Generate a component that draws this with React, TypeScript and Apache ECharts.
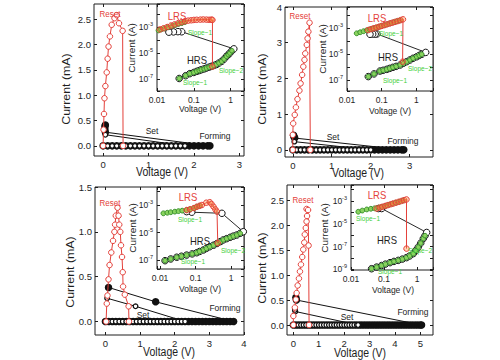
import React, { useEffect, useRef } from 'react';
import * as echarts from 'echarts';

// ---------------- data (Voltage V, Current mA for main; Voltage V, Current A for insets) -------------
const p1Reset = [[0,0],[0.01,0.32],[0.02,0.63],[0.03,0.94],[0.05,1.18],[0.08,1.45],[0.1,1.72],[0.12,1.96],[0.15,2.16],[0.19,2.39],[0.25,2.52],[0.3,2.58],[0.35,2.42],[0.43,2.27],[0.44,0]];
const p1FormSweep = [0,0.1,0.2,0.3,0.4,0.5,0.6,0.7,0.8,0.9,1,1.1,1.2,1.3,1.4,1.5,1.6,1.7,1.8,1.9,2,2.1,2.2,2.3,2.35];
const p1FormTail = [[0.05,0.27],[0.04,0.33],[0.04,0.38],[0.05,0.41]];
const p1SetSweep = [0,0.1,0.2,0.3,0.4,0.5,0.6,0.7,0.8,0.9,1,1.1,1.2,1.3,1.4,1.5,1.6,1.7,1.8];
const p1SetTail = [[0.05,0.22]];

const p2Reset = [[0,0],[0,0.42],[0.01,0.74],[0.05,0.98],[0.08,1.19],[0.12,1.42],[0.17,1.66],[0.2,1.86],[0.24,2.1],[0.27,2.33],[0.3,2.52],[0.32,2.7],[0.36,2.94],[0.38,3.12],[0.4,3.31],[0.43,3.56],[0.45,0]];
const p2FormSweep = [0,0.1,0.2,0.3,0.4,0.5,0.6,0.7,0.8,0.9,1,1.1,1.2,1.3,1.4,1.5,1.6,1.7,1.8,1.9,2,2.1,2.2,2.3,2.4,2.5,2.6,2.7,2.8,2.85];
const p2FormTail = [[0.05,0.33],[0.03,0.37],[0.02,0.41]];
const p2SetSweep = [0,0.1,0.2,0.3,0.4,0.5,0.6,0.7,0.8,0.9,1,1.1,1.2,1.3,1.4,1.5,1.6,1.7,1.8,1.9,2];
const p2SetTail = [[0.04,0.23]];

const p3Reset = [[0.02,0],[0.04,0.2],[0.06,0.29],[0.09,0.47],[0.12,0.63],[0.17,0.77],[0.22,0.9],[0.26,1.0],[0.28,1.08],[0.3,1.18],[0.35,1.27],[0.38,1.18],[0.4,1.08],[0.43,1.0],[0.45,0.85],[0.48,0.72],[0.5,0.55],[0.51,0.39],[0.56,0.3],[0.67,0.17],[0.68,0]];
const p3FormSweep = [0,0.1,0.2,0.3,0.4,0.5,0.6,0.7,0.8,0.9,1,1.1,1.2,1.3,1.4,1.5,1.6,1.7,1.8,1.9,2,2.1,2.2,2.3,2.4,2.5,2.6,2.7,2.8,2.9,3,3.1,3.2,3.3,3.4,3.5,3.6,3.7];
const p3FormTail = [[1.45,0.22],[0.09,0.38]];
const p3SetSweep = [0,0.1,0.2,0.3,0.4,0.5,0.6,0.7,0.8,0.9,1,1.1,1.2,1.3,1.4,1.5,1.6,1.7,1.8,1.9,2,2.1,2.2,2.3];
const p3SetTail = [[0.87,0.17],[0.05,0.26]];

const p4Reset = [[0,0],[0,0.18],[0.06,0.35],[0.1,0.51],[0.13,0.64],[0.17,0.79],[0.22,0.93],[0.26,1.07],[0.3,1.21],[0.35,1.36],[0.39,1.51],[0.43,1.65],[0.45,1.81],[0.49,1.94],[0.52,2.07],[0.54,2.18],[0.52,2.32],[0.58,2.3],[0.6,1.59],[0.62,0]];
const p4FormSweep = [0,0.1,0.2,0.3,0.4,0.5,0.6,0.7,0.8,0.9,1,1.1,1.2,1.3,1.4,1.5,1.6,1.7,1.8,1.9,2,2.1,2.2,2.3,2.4,2.5,2.6,2.7,2.8,2.9,3,3.1,3.2,3.3,3.4,3.5,3.6,3.7,3.8,3.9,4,4.1,4.2,4.3,4.4,4.5,4.6,4.7,4.8,4.9,5,5.05];
const p4FormTail = [[0.12,0.5],[0.1,0.55]];
const p4SetSweep = [0,0.1,0.2,0.3,0.4,0.5,0.6,0.7,0.8,0.9,1,1.1,1.2,1.3,1.4,1.5,1.6,1.7,1.8,1.9,2,2.1,2.2,2.3,2.4,2.5,2.55];
const p4SetTail = [[0.08,0.27],[0.06,0.3]];

// insets (log-log)
const p1InRed = [[0.012,6.5e-4],[0.015,8e-4],[0.019,1e-3],[0.024,1.3e-3],[0.03,1.6e-3],[0.038,2e-3],[0.047,2.4e-3],[0.058,2.8e-3],[0.07,3.1e-3],[0.085,3.3e-3],[0.1,3.5e-3],[0.12,3.6e-3],[0.15,3.7e-3],[0.18,3.8e-3],[0.22,3.7e-3],[0.26,3.6e-3],[0.3,3.7e-3],[0.32,3.5e-3],[0.32,9e-7]];
const p1InGreenL = [[0.011,5.5e-4],[0.013,6.5e-4],[0.016,7.8e-4],[0.02,9.5e-4],[0.025,1.15e-3],[0.031,1.4e-3],[0.038,1.7e-3],[0.047,2e-3],[0.057,2.4e-3]];
const p1InHRS = [[0.04,1.1e-7],[0.06,1.8e-7],[0.078,2.6e-7],[0.1,3.2e-7],[0.12,3.9e-7],[0.14,4.5e-7],[0.16,5.2e-7],[0.19,6e-7],[0.22,7e-7],[0.26,8.2e-7],[0.3,9.5e-7],[0.35,1.1e-6],[0.41,1.3e-6],[0.48,1.7e-6],[0.57,2.3e-6],[0.66,3.4e-6],[0.77,5.6e-6],[0.86,7.5e-6],[0.95,1e-5],[1.08,1.5e-5],[1.22,2.1e-5]];
const p1InLRSBlack = [[0.047,4.3e-4],[0.037,4.4e-4],[0.028,4.2e-4],[0.021,4e-4]];

const p2InRed = [[0.041,6.8e-4],[0.05,8e-4],[0.06,9.3e-4],[0.072,1.07e-3],[0.086,1.24e-3],[0.1,1.4e-3],[0.12,1.62e-3],[0.14,1.84e-3],[0.17,2.15e-3],[0.2,2.45e-3],[0.24,2.85e-3],[0.29,3.3e-3],[0.35,3.9e-3],[0.41,4.5e-3],[0.4,2.5e-6]];
const p2InGreenL = [[0.019,3.8e-4],[0.024,4.6e-4],[0.03,5.5e-4],[0.037,6.4e-4],[0.045,7.5e-4],[0.055,8.8e-4],[0.067,1.03e-3],[0.082,1.2e-3],[0.1,1.4e-3],[0.12,1.62e-3],[0.15,1.95e-3],[0.18,2.3e-3],[0.22,2.7e-3],[0.27,3.2e-3],[0.33,3.7e-3]];
const p2InHRS = [[0.041,1.8e-7],[0.06,2.9e-7],[0.089,4.8e-7],[0.11,5.5e-7],[0.14,6.5e-7],[0.17,7.7e-7],[0.21,9.3e-7],[0.26,1.1e-6],[0.34,1.4e-6],[0.42,1.9e-6],[0.52,2.5e-6],[0.65,3.4e-6],[0.8,4.6e-6],[1.02,6e-6],[1.2,7.6e-6],[1.42,9.3e-6],[1.85,1.3e-5]];
const p2InLRSBlack = [[0.073,3.4e-4],[0.065,3.3e-4],[0.055,3.3e-4],[0.046,3.2e-4]];

const p3InRed = [[0.056,4.3e-4],[0.07,4.9e-4],[0.09,6e-4],[0.108,7.5e-4],[0.13,8.8e-4],[0.15,1e-3],[0.2,1.47e-3],[0.25,1.6e-3],[0.28,1.2e-3],[0.32,7.5e-4],[0.36,4.8e-4],[0.4,3.3e-4],[0.42,1.7e-6]];
const p3InGreenL = [[0.0124,2.5e-4],[0.016,2.75e-4],[0.02,3e-4],[0.026,3.3e-4],[0.033,3.6e-4],[0.042,3.9e-4],[0.056,4.3e-4],[0.07,4.9e-4],[0.09,6e-4],[0.108,7.5e-4],[0.13,8.8e-4]];
const p3InHRS = [[0.0138,9e-8],[0.02,1.2e-7],[0.0295,1.6e-7],[0.04,1.9e-7],[0.056,2.3e-7],[0.08,2.8e-7],[0.108,3.4e-7],[0.13,4.2e-7],[0.166,5.4e-7],[0.2,7e-7],[0.25,9.3e-7],[0.32,1.2e-6],[0.4,1.6e-6],[0.5,2.2e-6],[0.6,2.9e-6],[0.75,3.6e-6],[0.94,4.5e-6],[1.15,5.5e-6],[1.44,6.6e-6],[1.8,8.8e-6],[2.2,1.15e-5]];
const p3InLRSBlack = [[0.55,2.5e-4],[0.078,3e-4],[0.056,3.3e-4]];

const p4InRed = [[0.06,2.1e-4],[0.075,2.55e-4],[0.09,3e-4],[0.11,3.57e-4],[0.13,4.15e-4],[0.16,5e-4],[0.19,5.8e-4],[0.23,6.85e-4],[0.28,8.15e-4],[0.34,9.7e-4],[0.41,1.14e-3],[0.48,1.31e-3],[0.48,6.6e-8]];
const p4InGreenL = [[0.0166,1.1e-4],[0.022,1.4e-4],[0.03,1.75e-4],[0.04,2e-4],[0.052,2.2e-4],[0.067,2.5e-4],[0.085,2.9e-4],[0.11,3.6e-4],[0.14,4.5e-4],[0.18,5.6e-4],[0.23,6.9e-4],[0.29,8.3e-4],[0.37,1.04e-3]];
const p4InHRS = [[0.042,1.15e-9],[0.06,1.6e-9],[0.085,2.2e-9],[0.11,2.9e-9],[0.152,3.9e-9],[0.2,5e-9],[0.27,6.2e-9],[0.36,8e-9],[0.48,1.07e-8],[0.6,1.5e-8],[0.77,2.4e-8],[0.92,4.5e-8],[1.09,9e-8],[1.3,2e-7],[1.55,5e-7],[1.75,9e-7],[1.96,1.7e-6]];
const p4InLRSBlack = [[0.085,2.1e-4],[0.067,2.1e-4]];

// tick values
const p1XTicks = [0,1,2,3];
const p1YTicks = [0,0.5,1,1.5,2,2.5];
const p2XTicks = [0,1,2,3];
const p2YTicks = [0,1,2,3,4];
const p3XTicks = [0,1,2,3,4];
const p3YTicks = [0,0.5,1,1.5];
const p4XTicks = [0,1,2,3,4,5];
const p4YTicks = [0,0.5,1,1.5,2,2.5];

// ---------------- layout & style ----------------
const FONT = '"Liberation Sans", Arial, Helvetica, sans-serif';
const INK = '#1e1e1e';
const RED = '#e4403a';
const GREEN_TXT = '#3fcf3a';
const GREEN_FILL = '#8ad35f';
const GREEN_EDGE = '#2f8a25';

const panels = [
  {
    main: { left: 94, top: 4, width: 150, height: 152 }, xr: [-0.2, 3.1], yr: [-0.2, 2.8], xt: p1XTicks, yt: p1YTicks, yd: 1,
    inset: { left: 157, top: 4, width: 87, height: 87 }, ixr: [0.01, 2.3], iyr: [-7.92, -1.23],
    reset: p1Reset, formSweep: p1FormSweep, formTail: p1FormTail, setSweep: p1SetSweep, setTail: p1SetTail,
    inRed: p1InRed, inGreenL: p1InGreenL, inHRS: p1InHRS, inLRSBlack: p1InLRSBlack,
  },
  {
    main: { left: 285, top: 7, width: 148, height: 150 }, xr: [-0.2, 3.6], yr: [-0.2, 4], xt: p2XTicks, yt: p2YTicks, yd: 0,
    inset: { left: 347, top: 7, width: 86, height: 84 }, ixr: [0.01, 3], iyr: [-7.85, -1.4],
    reset: p2Reset, formSweep: p2FormSweep, formTail: p2FormTail, setSweep: p2SetSweep, setTail: p2SetTail,
    inRed: p2InRed, inGreenL: p2InGreenL, inHRS: p2InHRS, inLRSBlack: p2InLRSBlack,
  },
  {
    main: { left: 95, top: 187, width: 149, height: 148 }, xr: [-0.3, 4], yr: [-0.15, 1.5], xt: p3XTicks, yt: p3YTicks, yd: 1,
    inset: { left: 157, top: 187, width: 87, height: 82 }, ixr: [0.0082, 2.3], iyr: [-7.65, -1.69],
    reset: p3Reset, formSweep: p3FormSweep, formTail: p3FormTail, setSweep: p3SetSweep, setTail: p3SetTail,
    inRed: p3InRed, inGreenL: p3InGreenL, inHRS: p3InHRS, inLRSBlack: p3InLRSBlack,
  },
  {
    main: { left: 287, top: 185, width: 146, height: 150 }, xr: [-0.25, 5.5], yr: [-0.2, 2.8], xt: p4XTicks, yt: p4YTicks, yd: 1,
    inset: { left: 351, top: 185, width: 82, height: 85 }, ixr: [0.01, 3.05], iyr: [-9.05, -1.62],
    reset: p4Reset, formSweep: p4FormSweep, formTail: p4FormTail, setSweep: p4SetSweep, setTail: p4SetTail,
    inRed: p4InRed, inGreenL: p4InGreenL, inHRS: p4InHRS, inLRSBlack: p4InLRSBlack,
  },
];

const labels = [
  // [x, y, text, kind]
  [66, 89, 'Current (mA)', 'ytitle'], [162, 172, 'Voltage (V)', 'xtitle'],
  [110, 14, 'Reset', 'red'], [152, 131, 'Set', 'note'], [215, 136, 'Forming', 'note'],
  [132, 48, 'Current (A)', 'iytitle'], [200, 109, 'Voltage (V)', 'ixtitle'],
  [177, 16, 'LRS', 'lrs'], [197, 60, 'HRS', 'hrs'],
  [200, 32, 'Slope~1', 'slope'], [231, 70, 'Slope~2', 'slope'], [195, 82, 'Slope~1', 'slope'],

  [262, 89, 'Current (mA)', 'ytitle'], [358, 173, 'Voltage (V)', 'xtitle'],
  [300, 16, 'Reset', 'red'], [333, 137, 'Set', 'note'], [403, 141, 'Forming', 'note'],
  [323, 49, 'Current (A)', 'iytitle'], [390, 111, 'Voltage (V)', 'ixtitle'],
  [377, 18, 'LRS', 'lrs'], [388, 57, 'HRS', 'hrs'],
  [391, 33, 'Slope~1', 'slope'], [420, 68, 'Slope~2', 'slope'], [395, 80, 'Slope~1', 'slope'],

  [70, 272, 'Current (mA)', 'ytitle'], [169, 352, 'Voltage (V)', 'xtitle'],
  [110, 203, 'Reset', 'red'], [143, 315, 'Set', 'note'], [225, 308, 'Forming', 'note'],
  [133, 228, 'Current (A)', 'iytitle'], [200, 289, 'Voltage (V)', 'ixtitle'],
  [188, 197, 'LRS', 'lrs'], [200, 241, 'HRS', 'hrs'],
  [190, 219, 'Slope~1', 'slope'], [233, 250, 'Slope~2', 'slope'], [193, 261, 'Slope~1', 'slope'],

  [262, 268, 'Current (mA)', 'ytitle'], [360, 353, 'Voltage (V)', 'xtitle'],
  [303, 200, 'Reset', 'red'], [347, 317, 'Set', 'note'], [413, 312, 'Forming', 'note'],
  [325, 228, 'Current (A)', 'iytitle'], [393, 290, 'Voltage (V)', 'ixtitle'],
  [377, 195, 'LRS', 'lrs'], [387, 240, 'HRS', 'hrs'],
  [368, 218, 'Slope~1', 'slope'], [420, 250, 'Slope~2', 'slope'], [390, 271, 'Slope~1', 'slope'],
];

const textKinds: any = {
  ytitle: { size: 10.5, color: INK, rot: true },
  xtitle: { size: 10.5, color: INK },
  iytitle: { size: 8.5, color: INK, rot: true },
  ixtitle: { size: 8.5, color: INK },
  red: { size: 8, color: RED },
  note: { size: 8.5, color: INK },
  lrs: { size: 9.5, color: RED },
  hrs: { size: 9.5, color: INK },
  slope: { size: 6.5, color: GREEN_TXT },
};

function makeText(l: any) {
  const [x, y, text, kind] = l;
  const k = textKinds[kind];
  const el: any = {
    type: 'text', x, y, z: 20, silent: true,
    style: {
      text, fontSize: k.size, fontFamily: FONT, fill: k.color,
      align: 'center', verticalAlign: 'middle', textAlign: 'center', textVerticalAlign: 'middle',
    },
  };
  if (k.rot) { el.rotation = Math.PI / 2; el.scaleX = 1.18; }
  else { el.scaleY = 1.15; }
  return el;
}

function fmtLogX(v: number) {
  const l = Math.log10(v);
  const e = Math.round(l);
  if (Math.abs(l - e) > 1e-6) return '';
  if (e === -2) return '0.01';
  if (e === -1) return '0.1';
  if (e === 0) return '1';
  return '';
}
function fmtLogY(v: number) {
  const l = Math.log10(v);
  const e = Math.round(l);
  if (Math.abs(l - e) > 1e-6) return '';
  if (e % 2 === 0) return '';
  return '{b|10}{s|' + e + '}';
}

function buildOption() {
  const grids: any[] = [];
  const xAxes: any[] = [];
  const yAxes: any[] = [];
  const mirrorsX: any[] = [];
  const mirrorsY: any[] = [];
  const series: any[] = [];

  panels.forEach((p) => {
    grids.push({ ...p.main, show: true, backgroundColor: '#fff', borderColor: INK, borderWidth: 1, z: 0 });
  });
  panels.forEach((p) => {
    grids.push({ ...p.inset, show: true, backgroundColor: '#fff', borderColor: INK, borderWidth: 1, z: 3 });
  });

  const tickStyle = { lineStyle: { color: INK, width: 1 } };
  panels.forEach((p, i) => {
    const base = () => ({ type: 'value', gridIndex: i, splitLine: { show: false }, axisLine: { show: false, onZero: false } });
    const yfmt = (v: number) => (p.yd ? v.toFixed(1) : String(v));
    xAxes.push({ ...base(), min: p.xr[0], max: p.xr[1], position: 'bottom',
      axisTick: { show: true, inside: true, length: 3, customValues: p.xt, ...tickStyle },
      axisLabel: { show: true, customValues: p.xt, margin: 3, fontSize: 9.5, fontFamily: FONT, color: INK, formatter: (v: number) => String(v) } });
    yAxes.push({ ...base(), min: p.yr[0], max: p.yr[1], position: 'left',
      axisTick: { show: true, inside: true, length: 3, customValues: p.yt, ...tickStyle },
      axisLabel: { show: true, customValues: p.yt, margin: 3, fontSize: 9.5, fontFamily: FONT, color: INK, formatter: yfmt } });
    mirrorsX.push({ ...base(), min: p.xr[0], max: p.xr[1], position: 'top',
      axisTick: { show: true, inside: true, length: 3, customValues: p.xt, ...tickStyle }, axisLabel: { show: false } });
    mirrorsY.push({ ...base(), min: p.yr[0], max: p.yr[1], position: 'right',
      axisTick: { show: true, inside: true, length: 3, customValues: p.yt, ...tickStyle }, axisLabel: { show: false } });
  });
  panels.forEach((p, i) => {
    const gi = 4 + i;
    const lb = { type: 'log', logBase: 10, gridIndex: gi, z: 5, splitLine: { show: false }, axisLine: { show: false, onZero: false } };
    const ymin = Math.pow(10, p.iyr[0]);
    const ymax = Math.pow(10, p.iyr[1]);
    xAxes.push({ ...lb, min: p.ixr[0], max: p.ixr[1], position: 'bottom',
      axisTick: { show: true, inside: true, length: 3, ...tickStyle },
      axisLabel: { show: true, margin: 4, fontSize: 8.5, fontFamily: FONT, color: INK, formatter: fmtLogX } });
    yAxes.push({ ...lb, min: ymin, max: ymax, position: 'left',
      axisTick: { show: true, inside: true, length: 3, ...tickStyle },
      axisLabel: { show: true, margin: 4, fontFamily: FONT, color: INK, formatter: fmtLogY,
        rich: { b: { fontSize: 8.5, fontFamily: FONT, color: INK }, s: { fontSize: 5.5, fontFamily: FONT, color: INK, padding: [0, 0, 6, 0] } } } });
    mirrorsX.push({ ...lb, min: p.ixr[0], max: p.ixr[1], position: 'top',
      axisTick: { show: true, inside: true, length: 3, ...tickStyle }, axisLabel: { show: false } });
    mirrorsY.push({ ...lb, min: ymin, max: ymax, position: 'right',
      axisTick: { show: true, inside: true, length: 3, ...tickStyle }, axisLabel: { show: false } });
  });

  panels.forEach((p, i) => {
    const common = { type: 'line', xAxisIndex: i, yAxisIndex: i, silent: true, animation: false, showSymbol: true, emphasis: { disabled: true } };
    series.push({ ...common, name: 'Forming' + i, z: 2,
      data: p.formSweep.map((v) => [v, 0]).concat(p.formTail),
      symbol: 'circle', symbolSize: 7.5, itemStyle: { color: '#111' }, lineStyle: { color: '#111', width: 1 } });
    series.push({ ...common, name: 'Set' + i, z: 3,
      data: p.setSweep.map((v) => [v, 0]).concat(p.setTail),
      symbol: 'circle', symbolSize: 4.6, itemStyle: { color: '#fff', borderColor: '#111', borderWidth: 1.3 }, lineStyle: { color: '#111', width: 1 } });
    series.push({ ...common, name: 'Reset' + i, z: 4, data: p.reset,
      symbol: 'circle', symbolSize: 5.5, itemStyle: { color: '#fff', borderColor: RED, borderWidth: 1 }, lineStyle: { color: RED, width: 1 } });
  });
  panels.forEach((p, i) => {
    const gi = 4 + i;
    const common = { type: 'line', xAxisIndex: gi, yAxisIndex: gi, silent: true, animation: false, showSymbol: true, emphasis: { disabled: true } };
    series.push({ ...common, name: 'InBlack' + i, z: 6, data: p.inHRS.concat(p.inLRSBlack),
      symbol: 'circle', symbolSize: 6.5, itemStyle: { color: '#fff', borderColor: '#111', borderWidth: 1 }, lineStyle: { color: '#111', width: 0.9 } });
    series.push({ ...common, name: 'InGreenH' + i, z: 7, data: p.inHRS.slice(0, -1),
      symbol: 'circle', symbolSize: 4.6, itemStyle: { color: GREEN_FILL, borderColor: GREEN_EDGE, borderWidth: 0.9 }, lineStyle: { color: GREEN_EDGE, width: 1 } });
    series.push({ ...common, name: 'InGreenL' + i, z: 7, data: p.inGreenL,
      symbol: 'circle', symbolSize: 4.8, itemStyle: { color: GREEN_FILL, borderColor: GREEN_EDGE, borderWidth: 0.9 }, lineStyle: { color: GREEN_EDGE, width: 1 } });
    series.push({ ...common, name: 'InRed' + i, z: 8, data: p.inRed,
      symbol: 'circle', symbolSize: 5.5, itemStyle: { color: 'rgba(255,140,60,0.35)', borderColor: RED, borderWidth: 1 }, lineStyle: { color: RED, width: 1 } });
  });

  return {
    animation: false,
    backgroundColor: '#fff',
    textStyle: { fontFamily: FONT },
    grid: grids,
    xAxis: xAxes.concat(mirrorsX),
    yAxis: yAxes.concat(mirrorsY),
    series,
    graphic: { elements: labels.map(makeText) },
  };
}

export default function App() {
  const ref = useRef<HTMLDivElement>(null);
  useEffect(() => {
    if (!ref.current) return;
    const chart = echarts.init(ref.current, null, { renderer: 'svg' });
    chart.setOption(buildOption() as any);
    return () => chart.dispose();
  }, []);
  return <div ref={ref} style={{ position: 'absolute', left: 0, top: 0, width: 500, height: 360, background: '#fff' }} />;
}
